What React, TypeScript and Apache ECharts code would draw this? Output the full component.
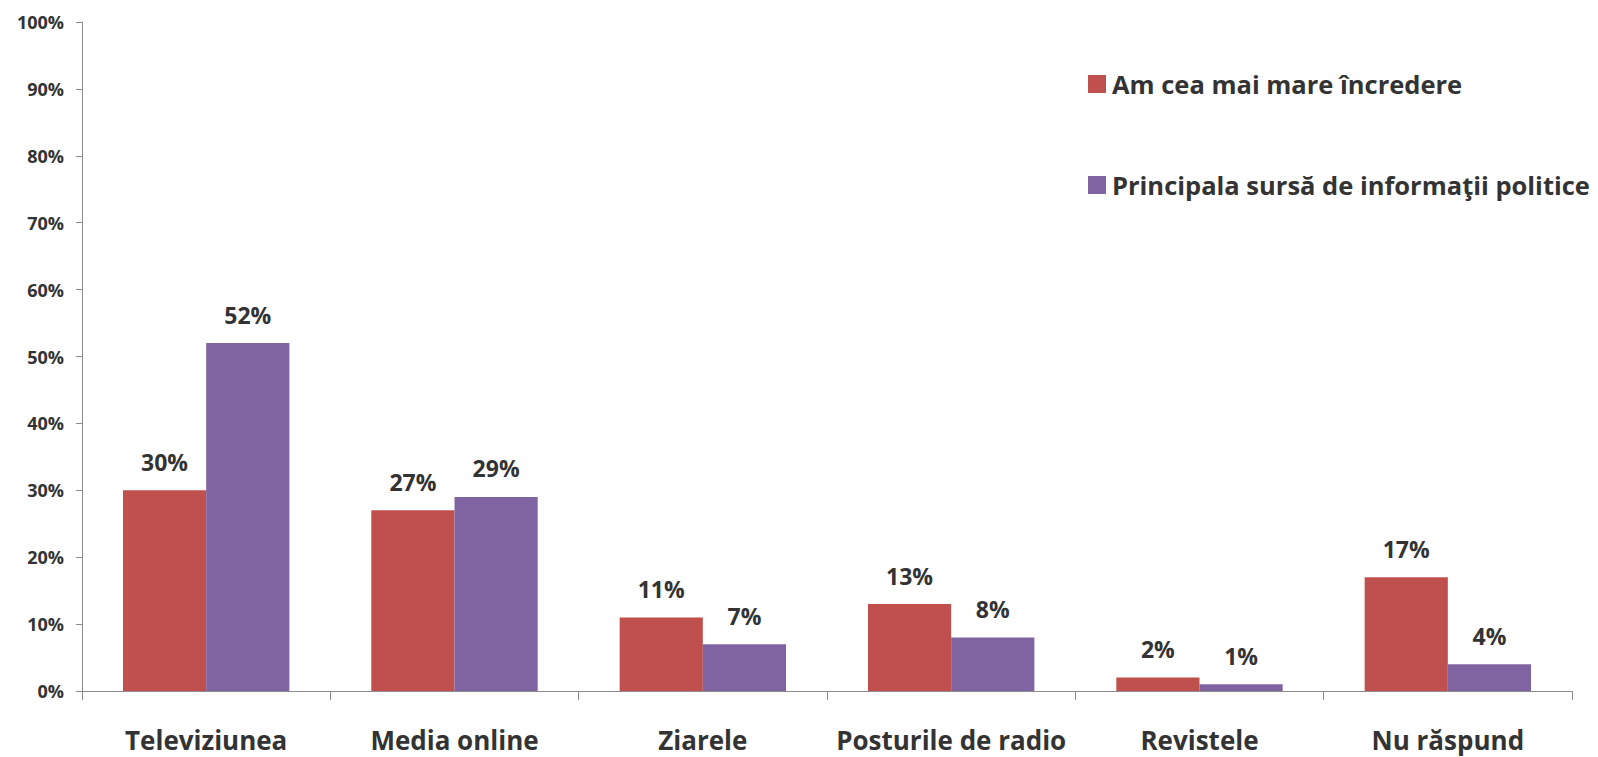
import React, { useEffect, useRef } from "react";
import * as echarts from "echarts";

const categories = ["Televiziunea", "Media online", "Ziarele", "Posturile de radio", "Revistele", "Nu răspund"];
const seriesNames = ["Am cea mai mare încredere", "Principala sursă de informaţii politice"];
const trustValues = [30, 27, 11, 13, 2, 17];
const sourceValues = [52, 29, 7, 8, 1, 4];
const colors = ["#C0504D", "#8064A2"];

const FONT = "'Open Sans', Lato, sans-serif";
const TEXT = "#333333";

export default function App() {
  const ref = useRef<HTMLDivElement>(null);
  useEffect(() => {
    if (!ref.current) return;
    const chart = echarts.init(ref.current, null, { renderer: "svg" });
    const label = {
      show: true,
      position: "top" as const,
      distance: 17,
      formatter: (p: any) => p.value + "%",
      fontFamily: FONT,
      fontWeight: "bold" as const,
      fontSize: 23,
      color: TEXT,
    };
    chart.setOption({
      animation: false,
      backgroundColor: "#ffffff",
      grid: { left: 82, right: 26, top: 22, bottom: 66, containLabel: false },
      legend: {
        orient: "vertical",
        left: 1083,
        top: 66,
        itemWidth: 18,
        itemHeight: 18,
        itemGap: 75,
        icon: "rect",
        textStyle: { fontFamily: FONT, fontWeight: "bold", fontSize: 25.5, color: TEXT, padding: [0, 0, 0, 1] },
        data: seriesNames,
      },
      xAxis: {
        type: "category",
        data: categories,
        axisLine: { lineStyle: { color: "#8c8c8c", width: 1 } },
        axisTick: { show: true, length: 9, alignWithLabel: false, lineStyle: { color: "#8c8c8c" } },
        axisLabel: { interval: 0, fontFamily: FONT, fontWeight: "bold", fontSize: 26, color: TEXT, margin: 36 },
      },
      yAxis: {
        type: "value",
        min: 0,
        max: 100,
        interval: 10,
        axisLine: { show: true, lineStyle: { color: "#8c8c8c", width: 1 } },
        axisTick: { show: true, length: 6, lineStyle: { color: "#8c8c8c" } },
        splitLine: { show: false },
        axisLabel: {
          formatter: "{value}%",
          fontFamily: FONT,
          fontWeight: "bold",
          fontSize: 18,
          color: TEXT,
          margin: 18,
        },
      },
      series: [
        {
          name: seriesNames[0],
          type: "bar",
          data: trustValues,
          itemStyle: { color: colors[0] },
          barGap: "0%",
          barCategoryGap: "33%",
          label,
        },
        {
          name: seriesNames[1],
          type: "bar",
          data: sourceValues,
          itemStyle: { color: colors[1] },
          barGap: "0%",
          barCategoryGap: "33%",
          label,
        },
      ],
    });
    return () => chart.dispose();
  }, []);
  return <div ref={ref} style={{ position: "fixed", left: 0, top: 0, width: 1598, height: 757 }} />;
}
